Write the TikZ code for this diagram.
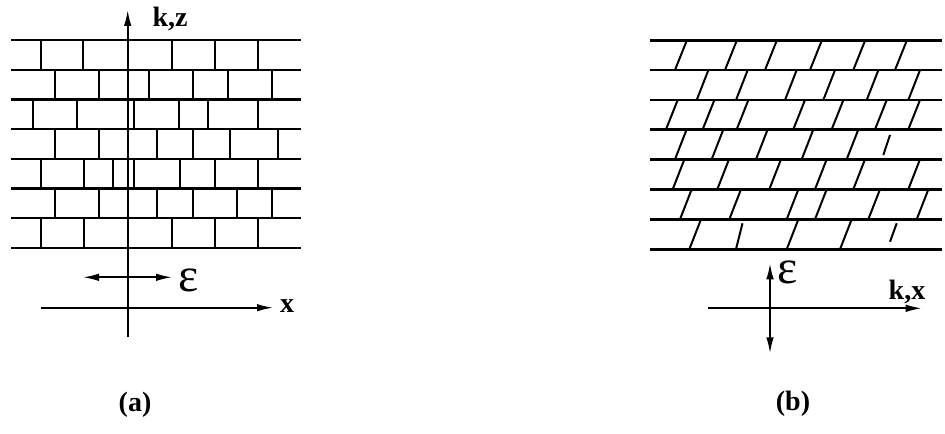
\documentclass[tikz,border=0pt]{standalone}
\usepackage{fontspec}
\setmainfont{Liberation Serif}
\usetikzlibrary{positioning,arrows.meta}

\begin{document}
\begin{tikzpicture}[
    x=0.5pt, y=-0.5pt,
    wall/.style={
        line width=1.2pt
    },
    joint/.style={
        line width=1pt
    },
    axis/.style={
        -{Latex[length=8pt,width=3.8pt]},
        line width=0.9pt
    },
    twoway/.style={
        {Latex[length=8pt,width=3.8pt]}-{Latex[length=8pt,width=3.8pt]},
        line width=0.9pt
    },
    lbl/.style={
        font=\bfseries\fontsize{14}{16}\selectfont
    },
    eps/.style={
        font=\fontsize{24}{26}\selectfont
    }
]
\useasboundingbox (0,0) rectangle (945,433);

% ============================================================
% (a) stacked bricks
% ============================================================

\foreach \y in {40,70,99.5,129,159,188.5,218,248}
    \draw[wall] (11,\y) -- (301,\y);

\foreach \top/\bot/\xs in {
    40/70/{40.7,83.3,171.7,215,257.7},
    70/99.5/{55,99,149,193.3,228.3,271.7},
    99.5/129/{33.3,77.3,134,179.3,208.3,257.7},
    129/159/{55,99,156.7,193.3,230,278.3},
    159/188.5/{40.7,84,113.3,134.3,180,215,257.7},
    188.5/218/{55,99,156.7,193.3,237.3,271.7},
    218/248/{40.7,84,171.7,215,257.7}}
{
    \foreach \x in \xs
        \draw[joint] (\x,\top) -- (\x,\bot);
}

\coordinate (kzfoot) at (127.7,337);
\coordinate (kztip) at (127.7,10);
\coordinate (xfoot) at (40.7,307.7);
\coordinate (xtip) at (273,307.7);
\coordinate (epsleft) at (83,277.3);
\coordinate (epsright) at (172,277.3);

\draw[axis] (kzfoot) -- (kztip);
\draw[axis] (xfoot) -- (xtip);
\draw[twoway] (epsleft) -- (epsright);

\node[lbl] (kz) at (170,19) {k,z};
\node[lbl] (xa) at (287,306) {x};
\node[eps] (epsa) at (189,280) {ε};
\node[lbl] (capa) at (135,405) {(a)};

% ============================================================
% (b) sheared bricks
% ============================================================

\foreach \y in {40.7,70,100,129.3,159.3,189.3,219.3,249.3}
    \draw[wall] (650,\y) -- (942,\y);

\foreach \top/\bot/\xs in {
    40.7/70/{675,725,765,810,853.3,895},
    70/100/{696.7,736,785,823.3,866.7,908.3},
    100/129.3/{666,702.7,736.7,793.3,831.7,875,908.3},
    129.3/159.3/{675,711.7,756,801.7,846.7},
    159.3/189.3/{672.7,717.3,769.3,815,853.3,908.3},
    189.3/219.3/{680,729.3,786.7,815,868.3,916.7},
    219.3/249.3/{689.3,786.7,840}}
{
    \foreach \x in \xs
        \draw[joint] (\x,\bot) -- ++(11.7,\top-\bot);
}

% broken pieces
\draw[joint] (883.3,155) -- (890,135);
\draw[joint] (736,249.3) -- (742.5,223.3);
\draw[joint] (890,241.7) -- (896.7,223.3);

\coordinate (kxfoot) at (708.3,308.3);
\coordinate (kxtip) at (921.7,308.3);
\coordinate (epsup) at (770,263.3);
\coordinate (epsdown) at (770,353.3);

\draw[axis] (kxfoot) -- (kxtip);
\draw[twoway] (epsdown) -- (epsup);

\node[lbl] (kx) at (907,292) {k,x};
\node[eps] (epsb) at (788,272) {ε};
\node[lbl] (capb) at (793,404) {(b)};

\end{tikzpicture}
\end{document}
